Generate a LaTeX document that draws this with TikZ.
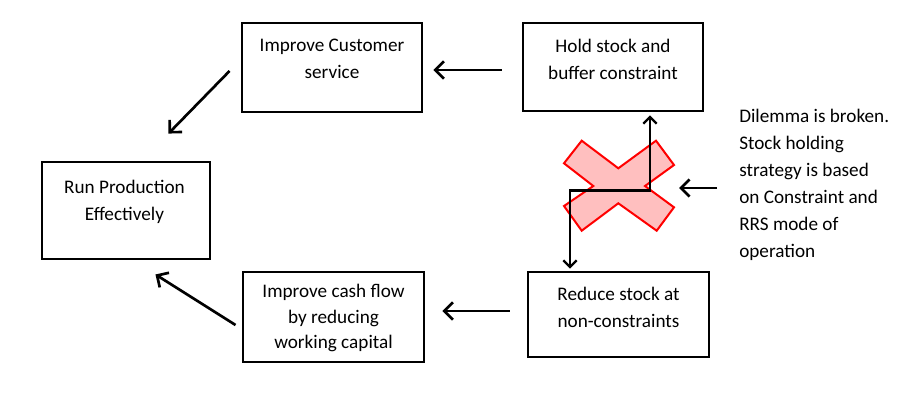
\documentclass[tikz,border=0pt]{standalone}
\usepackage{fontspec}
\setmainfont{Carlito}
\usetikzlibrary{arrows.meta,calc,positioning}

\begin{document}
\begin{tikzpicture}[
  x=0.75pt,y=-0.75pt,
  box/.style={draw,line width=2.2pt,inner sep=0pt},
  txt/.style={align=center,inner sep=0pt,font=\fontsize{14.4}{20.2}\selectfont},
  arr/.style={line width=2pt,-{Straight Barb[length=6.5pt,width=13pt]}},
  link/.style={line width=1.7pt,{Straight Barb[length=5pt,width=10pt]}-{Straight Barb[length=5pt,width=10pt]}},
  cross/.style={draw=red,line width=1.5pt,fill=red!25,line join=miter}
]
  \useasboundingbox (0,0) rectangle (900,408);

  % boxes
  \node[box,minimum width=135pt,minimum height=66.75pt] (cust) at (332,67.5) {};
  \node[box,minimum width=135pt,minimum height=66pt] (hold) at (613,67) {};
  \node[box,minimum width=126pt,minimum height=72.75pt] (run) at (126,210.5) {};
  \node[box,minimum width=135.75pt,minimum height=67.5pt] (cash) at (333.5,317) {};
  \node[box,minimum width=135.75pt,minimum height=63.75pt] (red) at (618.5,314.5) {};

  % texts
  \node[txt] (custtxt) at ($(cust)+(0,-9)$) {Improve Customer\\service};
  \node[txt] (holdtxt) at ($(hold)+(0,-8)$) {Hold stock and\\buffer constraint};
  \node[txt] (runtxt) at ($(run)+(-1.5,-9)$) {Run Production\\Effectively};
  \node[txt,font=\fontsize{14.4}{19}\selectfont] (cashtxt) at ($(cash)+(0,1)$) {Improve cash flow\\by reducing\\working capital};
  \node[txt] (redtxt) at ($(red)+(0,-7)$) {Reduce stock at\\non-constraints};
  \node[txt,align=left,anchor=west] (note) at (739,185)
    {Dilemma is broken.\\Stock holding\\strategy is based\\on Constraint and\\RRS mode of\\operation};

  % the cross
  \draw[cross] (581.7,140.7) -- (618.3,168.3) -- (656,140.7) -- (674,165)
    -- (645,186) -- (674,207.3) -- (656.7,230.7) -- (618.3,203.3)
    -- (581.7,230.7) -- (564,206) -- (593.3,186) -- (564,163.3) -- cycle;

  % arrows
  \draw[arr] ($(hold.west)+(-20,3)$) -- ($(cust.east)+(10,2.5)$);
  \draw[arr] ($(red.west)+(-17,-3.5)$) -- ($(cash.east)+(17,-6)$);
  \draw[arr] ($(cust.west)+(-11,3.5)$) -- ($(run.north east)+(-43,-27)$);
  \draw[arr] ($(cash.west)+(-6,8)$) -- ($(run.south east)+(-56,14)$);
  \draw[link] ($(hold.south)+(37,3)$) |- ($(red.north)+(-48.5,-80)$) -- ($(red.north)+(-48.5,-2)$);
  \draw[arr] ($(note.west)+(-22,3)$) -- ($(note.west)+(-60,3)$);
\end{tikzpicture}
\end{document}
